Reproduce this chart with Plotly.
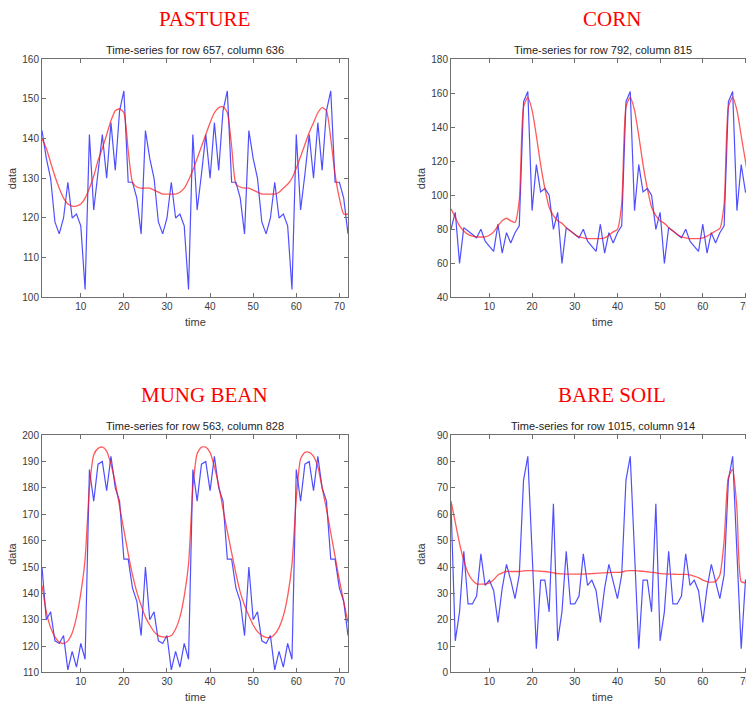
import plotly.graph_objects as go

time = list(range(1, 73))

pasture_data = [142,135,130,119,116,120,129,120,121,118,102,141,122,131,141,130,144,132,147,152,129,129,125,116,
                142,135,130,119,116,120,129,120,121,118,102,141,122,131,141,130,144,132,147,152,129,129,125,116,
                142,135,130,119,116,120,129,120,121,118,102,141,122,131,141,130,144,132,147,152,129,129,125,116]
pasture_fit = [140,137.5,134,130.5,127.5,125,123.5,123,123,123.5,125,127.5,130.5,134.5,137.5,141,144.5,147,147.5,146.5,137,129,127.8,127.5,
               127.5,127.5,127,126.5,126,126,126,126,126.5,127.5,129.5,132,135,138,141,144,146.5,147.8,148,146.5,138,128.5,127.8,127.5,
               127.5,127,126.5,126,126,126,126,126.5,127.5,128.5,130,132.5,135.5,138.5,141.5,144,146.5,147.8,147,140,131,125,121,121]
pasture_fit = pasture_fit[:72]

corn_data = [80,90,60,81,79,77,75,80,73,70,67,83,66,78,72,78,82,155,161,91,118,102,104,100,
             80,90,60,81,79,77,75,80,73,70,67,83,66,78,72,78,82,155,161,91,118,102,104,100,
             80,90,60,81,79,77,75,80,73,70,67,83,66,78,72,78,82,155,161,91,118,102,104,100]
corn_fit = [92,87,82,79,77,76,75.5,75.5,75.5,76.5,78.5,82,85,86.5,85,84,97,152,157.5,150,135,118,104,93,
            88,85,83.5,81,79,77,75.5,75,74.5,74.5,74.5,74.5,75,76.5,78.5,80,95,152,157.5,150,135,118,104,93,
            88,85,83.5,81,79,77,75.5,75,74.5,74.5,74.5,75,76,77.5,79,80.5,95,152,157.5,150,135,120,105,95]

mung_data = [150,130,133,122,121,124,111,118,112,121,115,187,175,189,190,179,192,180,175,153,153,142,137,124,
             150,130,133,122,121,124,111,118,112,121,115,187,175,189,190,179,192,180,175,153,153,142,137,124,
             150,130,133,122,121,124,111,118,112,121,115,187,175,189,190,179,192,180,175,153,153,142,137,124]
mung_fit = [143,133,127,123.5,121.5,121,122,125,131,140,153,180,192.5,195,195.5,194,189,182,173,164,155,147,140.5,135.5,
            131,128,125.5,124,123.5,123.5,124,126.5,131,139,151,180,193,195.5,195.5,193.5,188,181,172,163.5,155.5,147.5,140.5,135.5,
            131.5,128,125.5,124,123.3,123.3,124.5,127,131.5,139,151,176,191,193.5,193.5,192,188,180,172,163,154,145,137,129]

bare_data = [64,12,23,46,26,26,29,45,33,35,31,19,32,41,35,28,37,73,82,45,9,35,35,23,
             64,12,23,46,26,26,29,45,33,35,31,19,32,41,35,28,37,73,82,45,9,35,35,23,
             64,12,23,46,26,26,29,45,33,35,31,19,32,41,35,28,37,73,82,45,9,35,35,23]
bare_fit = [65,57,49,42.5,37.7,35,33.6,33.5,33.5,34,35.2,37,37.8,38.3,38.3,38.3,38.3,38.5,38.6,38.6,38.5,38.4,38.3,38.1,
            37.8,37.5,37.4,37.3,37.3,37.3,37.3,37.3,37.4,37.5,37.6,37.7,37.8,37.9,38,38,38.1,38.5,38.6,38.6,38.5,38.4,38.2,38,
            37.8,37.5,37.4,37.3,37.3,37.2,37.2,37.2,37,36.5,36,35,34.5,34.3,34.5,37,50,74,77,62,34.5,34,34,34]

crops = ["PASTURE", "CORN", "MUNG BEAN", "BARE SOIL"]
subtitles = ["Time-series for row 657, column 636", "Time-series for row 792, column 815",
             "Time-series for row 563, column 828", "Time-series for row 1015, column 914"]
y_ranges = [[100, 160], [40, 180], [110, 200], [0, 90]]
y_dticks = [10, 20, 10, 10]
series = [(pasture_data, pasture_fit), (corn_data, corn_fit), (mung_data, mung_fit), (bare_data, bare_fit)]

W, H = 760, 708
# pixel boxes: (left, right, top, bottom)
boxes = [(42, 348, 55, 297), (451, 754, 55, 297), (42, 348, 437, 678), (451, 754, 437, 678)]

fig = go.Figure()
axis_color = "#707070"
text_color = "#3a3a3a"
font_family = "Liberation Sans, Arial, sans-serif"

for i, (d, f) in enumerate(series):
    n = "" if i == 0 else str(i + 1)
    fig.add_trace(go.Scatter(x=time, y=d, mode="lines", line=dict(color="rgba(20,20,255,0.75)", width=1.2),
                             xaxis="x" + n, yaxis="y" + n, showlegend=False))
    fig.add_trace(go.Scatter(x=time, y=f, mode="lines", line=dict(color="rgba(255,20,20,0.7)", width=1.3, shape="spline", smoothing=0.6),
                             xaxis="x" + n, yaxis="y" + n, showlegend=False))
    l, r, t, b = boxes[i]
    common = dict(showline=True, linecolor=axis_color, linewidth=1, mirror="ticks", ticks="inside",
                  ticklen=4, tickcolor=axis_color, showgrid=False, zeroline=False,
                  tickfont=dict(family=font_family, size=10, color=text_color))
    fig.update_layout(**{
        "xaxis" + n: dict(domain=[l / W, r / W], range=[1, 72], tick0=10, dtick=10,
                          anchor="y" + n, **common),
        "yaxis" + n: dict(domain=[1 - b / H, 1 - t / H], range=y_ranges[i], dtick=y_dticks[i],
                          anchor="x" + n, **common),
    })
    cx = (l + r) / 2
    fig.add_annotation(x=cx / W, y=1 - (t - 9) / H, xref="paper", yref="paper", text=subtitles[i],
                       showarrow=False, font=dict(family=font_family, size=11, color="#222222"),
                       xanchor="center", yanchor="middle")
    fig.add_annotation(x=(cx + 9) / W, y=1 - (t - 41) / H, xref="paper", yref="paper", text=crops[i],
                       showarrow=False, font=dict(family="Liberation Serif, Times New Roman, serif", size=21, color="#ff0000"),
                       xanchor="center", yanchor="middle")
    fig.add_annotation(x=cx / W, y=1 - (b + 25) / H, xref="paper", yref="paper", text="time",
                       showarrow=False, font=dict(family=font_family, size=11, color=text_color),
                       xanchor="center", yanchor="middle")
    fig.add_annotation(x=(l - 30) / W, y=1 - ((t + b) / 2) / H, xref="paper", yref="paper", text="data",
                       showarrow=False, textangle=-90, font=dict(family=font_family, size=11, color=text_color),
                       xanchor="center", yanchor="middle")

fig.update_layout(width=W, height=H, margin=dict(l=0, r=0, t=0, b=0),
                  paper_bgcolor="white", plot_bgcolor="white")

fig.write_html("out.html", config={"displayModeBar": False},
               post_script="document.body.style.margin='0';document.body.style.overflow='hidden';")
